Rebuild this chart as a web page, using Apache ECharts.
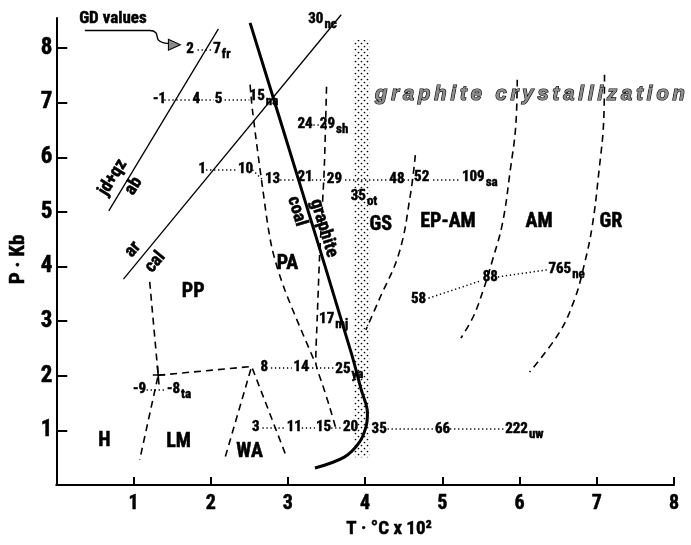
<!DOCTYPE html>
<html>
<head>
<meta charset="utf-8">
<script src="https://cdn.jsdelivr.net/npm/echarts@6.0.0/dist/echarts.min.js"></script>
<style>html,body{margin:0;background:#fff}#chart{width:691px;height:545px}</style>
</head>
<body>
<div id="chart"></div>
<script>
var FONT = '"Roboto Condensed", "Liberation Sans Narrow", "DejaVu Sans Condensed", "Arial Narrow", Roboto, sans-serif';
var BOLD = 'bold condensed';

// solid reaction curves  [T x100 °C, P kb]
var graphiteCoal = [[2.51,8.46],[3.17,5.44],[3.82,2.42],[3.95,1.74],[4.03,1.32],[4.01,1.06],[3.92,0.77],[3.73,0.51],[3.35,0.31]];
var jdQzAb = [[0.68,5.02],[2.10,8.35]];
var arCal = [[0.87,3.77],[3.69,8.61]];

// dashed facies boundaries
var bndPA = [[2.51,7.33],[2.54,6.87],[2.67,5.46],[2.79,4.36],[2.96,3.57],[3.35,2.25]];
var bndSh = [[3.50,7.29],[3.47,5.77],[3.41,4.18],[3.38,3.08],[3.36,2.25],[3.45,1.83],[3.54,1.43],[3.62,1.04]];
var bndWA = [[2.19,0.52],[2.53,2.17],[2.98,0.52]];
var bndTa = [[1.32,2.01],[2.53,2.17]];
var bndPP = [[1.21,3.72],[1.32,2.01],[1.08,0.46]];
var bndGS = [[4.65,6.04],[4.59,5.35],[4.44,4.25],[4.18,3.39],[4.01,2.84]];
var bndAM = [[5.97,7.42],[5.95,6.56],[5.88,5.77],[5.78,4.80],[5.65,4.12],[5.53,3.57],[5.40,3.08],[5.24,2.69]];
var bndGR = [[7.10,7.51],[7.09,6.68],[7.03,5.77],[6.94,4.73],[6.83,3.99],[6.71,3.39],[6.51,2.78],[6.13,2.07]];

// small solid cross at the triple point near "ta"
var taCross = [[[1.25,2.01],[1.41,2.01]], [[1.31,2.18],[1.33,1.84]]];

// graphite crystallization band [x0, y0, x1, y1]
var band = [3.85, 0.51, 4.06, 8.15];

// GD values: [x(left edge), y, number, subscript]
var gdLabels = [
  [1.69,7.97,'2',''],[2.04,7.97,'7','fr'],
  [1.26,7.05,'-1',''],[1.77,7.05,'4',''],[2.06,7.05,'5',''],[2.51,7.11,'15','na'],
  [3.13,6.59,'24',''],[3.42,6.59,'29','sh'],
  [1.85,5.77,'1',''],[2.36,5.77,'10',''],[2.71,5.59,'13',''],[3.13,5.62,'21',''],[3.51,5.59,'29',''],
  [4.32,5.59,'48',''],[4.64,5.62,'52',''],[5.26,5.62,'109','sa'],
  [3.82,5.27,'35','ot'],
  [3.41,3.02,'17','mj'],
  [2.65,2.14,'8',''],[3.08,2.14,'14',''],[3.62,2.11,'25','ya'],
  [1.00,1.74,'-9',''],[1.44,1.74,'-8','ta'],
  [2.54,1.04,'3',''],[2.99,1.04,'11',''],[3.37,1.04,'15',''],[3.72,1.04,'20',''],
  [4.09,1.01,'35',''],[4.91,1.01,'66',''],[5.82,1.01,'222','uw'],
  [4.60,3.39,'58',''],[5.53,3.79,'88',''],[6.38,3.94,'765','ne'],
  [3.27,8.52,'30','nc']
];

// dotted links between GD values
var gdLinks = [
  [[1.83,7.97],[2.03,7.97]],
  [[1.40,7.05],[1.74,7.05]],[[1.88,7.05],[2.04,7.05]],[[2.18,7.05],[2.50,7.05]],
  [[3.33,6.59],[3.41,6.59]],
  [[1.94,5.77],[2.33,5.77]],[[2.54,5.77],[2.67,5.59]],[[2.90,5.59],[3.10,5.59]],[[3.31,5.59],[3.49,5.59]],
  [[3.74,5.59],[4.29,5.59]],[[4.50,5.59],[4.62,5.59]],[[4.88,5.59],[5.23,5.59]],
  [[2.78,2.14],[3.05,2.14]],[[3.26,2.14],[3.59,2.14]],
  [[1.17,1.74],[1.41,1.74]],
  [[2.67,1.04],[2.96,1.04]],[[3.18,1.04],[3.35,1.04]],[[3.56,1.04],[3.69,1.04]],
  [[4.29,1.03],[4.88,1.03]],[[5.10,1.03],[5.79,1.03]],
  [[4.82,3.42],[5.50,3.74]],[[5.72,3.81],[6.36,3.94]]
];

// facies names [x, y, text]
var regionLabels = [
  [0.63,0.79,'H'],[1.59,0.77,'LM'],[2.51,0.60,'WA'],[1.78,3.52,'PP'],[3.00,4.03,'PA'],
  [4.21,4.76,'GS'],[5.08,4.80,'EP-AM'],[6.26,4.80,'AM'],[7.19,4.80,'GR']
];

// labels along reaction lines [x, y, text, angle]
var lineLabels = [
  [0.74,5.62,'jd+qz',58],[1.01,5.46,'ab',58],
  [1.00,4.30,'ar',50],[1.29,4.07,'cal',50],
  [3.47,4.69,'graphite',-73],[3.12,5.00,'coal',-73]
];

var gdArrow = [[0.37,8.32],[1.21,8.32],[1.29,8.28],[1.32,8.15],[1.38,8.10],[1.46,8.08]];
var gdArrowHead = [1.53,8.06];

var dashedLines = [
  {data: bndPA, smooth: 0.3}, {data: bndSh, smooth: 0.2}, {data: bndWA, smooth: false},
  {data: bndTa, smooth: false}, {data: bndPP, smooth: false}, {data: bndGS, smooth: 0.4},
  {data: bndAM, smooth: 0.4}, {data: bndGR, smooth: 0.4}
];

// stipple pattern for the band
var dots = document.createElement('canvas');
dots.width = 6; dots.height = 6;
var dc = dots.getContext('2d');
dc.fillStyle = '#000';
dc.beginPath(); dc.arc(1.5, 1.5, 0.85, 0, Math.PI * 2); dc.fill();
dc.beginPath(); dc.arc(4.5, 4.5, 0.85, 0, Math.PI * 2); dc.fill();

var chart = echarts.init(document.getElementById('chart'));

var ink = {color: '#000', textBorderColor: '#000', textBorderWidth: 0.5, opacity: 1};
var hidden = {color: 'transparent', opacity: 1};
var series = [];

series.push({
  type: 'custom',
  data: [band],
  encode: {x: [0, 2], y: [1, 3]},
  silent: true,
  renderItem: function (params, api) {
    var p0 = api.coord([api.value(0), api.value(3)]);
    var p1 = api.coord([api.value(2), api.value(1)]);
    return {
      type: 'rect',
      shape: {x: p0[0], y: p0[1], width: p1[0] - p0[0], height: p1[1] - p0[1]},
      style: {fill: {image: dots, repeat: 'repeat'}}
    };
  }
});

dashedLines.forEach(function (d) {
  series.push({
    type: 'line', data: d.data, smooth: d.smooth, showSymbol: false, symbol: 'none', clip: false,
    lineStyle: {color: '#000', width: 1.6, type: [7, 5]}
  });
});

series.push({
  type: 'lines', coordinateSystem: 'cartesian2d', silent: true,
  data: gdLinks.map(function (s) { return {coords: s}; }),
  lineStyle: {color: '#000', width: 1.5, type: [1.3, 2.7], opacity: 1}
});

series.push({
  type: 'lines', coordinateSystem: 'cartesian2d', silent: true,
  data: taCross.map(function (s) { return {coords: s}; }),
  lineStyle: {color: '#000', width: 1.6, opacity: 1}
});

[jdQzAb, arCal].forEach(function (d) {
  series.push({
    type: 'line', data: d, showSymbol: false, symbol: 'none', clip: false,
    lineStyle: {color: '#000', width: 1.3}
  });
});

series.push({
  type: 'line', data: graphiteCoal, smooth: 0.35, showSymbol: false, symbol: 'none', clip: false,
  lineStyle: {color: '#000', width: 3}
});

series.push({
  type: 'line', data: gdArrow, smooth: 0.3, showSymbol: false, symbol: 'none', clip: false,
  lineStyle: {color: '#000', width: 1.4}
});
series.push({
  type: 'scatter', data: [gdArrowHead], symbol: 'triangle', symbolSize: [11, 12], symbolRotate: -90,
  itemStyle: {color: '#8a8a8a', borderColor: '#000', borderWidth: 1, opacity: 1}
});

series.push({
  type: 'scatter', symbolSize: 1, itemStyle: hidden, clip: false,
  data: gdLabels.map(function (d) { return {value: [d[0], d[1]], name: d[2], sub: d[3]}; }),
  label: {
    show: true, position: [0, 0], align: 'left', verticalAlign: 'middle', opacity: 1,
    formatter: function (p) {
      return '{n|' + p.data.name + '}' + (p.data.sub ? '{s|' + p.data.sub + '}' : '');
    },
    rich: {
      n: Object.assign({fontFamily: FONT, fontWeight: BOLD, fontSize: 15}, ink),
      s: Object.assign({fontFamily: FONT, fontWeight: BOLD, fontSize: 13, padding: [11, 0, 0, 1]}, ink)
    }
  }
});

series.push({
  type: 'scatter', symbolSize: 1, itemStyle: hidden, clip: false,
  data: regionLabels.map(function (d) { return {value: [d[0], d[1]], name: d[2]}; }),
  label: Object.assign({
    show: true, position: [0, 0], align: 'center', verticalAlign: 'middle',
    formatter: '{b}', fontFamily: FONT, fontWeight: BOLD, fontSize: 20
  }, ink)
});

series.push({
  type: 'scatter', symbolSize: 1, itemStyle: hidden, clip: false,
  data: lineLabels.map(function (d) { return {value: [d[0], d[1]], name: d[2], label: {rotate: d[3]}}; }),
  label: Object.assign({
    show: true, position: [0, 0], align: 'center', verticalAlign: 'middle',
    formatter: '{b}', fontFamily: FONT, fontWeight: BOLD, fontSize: 18
  }, ink)
});

series.push({
  type: 'scatter', symbolSize: 1, itemStyle: hidden, clip: false,
  data: [{value: [6.14, 7.14], name: 'graphite crystallization'.split('').join('\u2009')},
         {value: [0.74, 8.53], name: 'GD values', label: Object.assign({fontStyle: 'normal', fontWeight: BOLD, fontSize: 17, fontFamily: FONT}, ink)}],
  label: {
    show: true, position: [0, 0], align: 'center', verticalAlign: 'middle', formatter: '{b}', opacity: 1,
    fontFamily: '"Liberation Sans", Arial, sans-serif', fontStyle: 'italic', fontWeight: 'bold', fontSize: 20,
    color: '#8c8c8c', textBorderColor: '#000', textBorderWidth: 1.2
  }
});

var integerTicks = [1, 2, 3, 4, 5, 6, 7, 8];

var option = {
  animation: false,
  backgroundColor: '#fff',
  grid: {left: 48, right: 17, top: 18, bottom: 60},
  xAxis: {
    type: 'value', min: 0, max: 8, interval: 1,
    axisLine: {lineStyle: {color: '#000', width: 2}},
    axisTick: {inside: true, length: 8, customValues: integerTicks, lineStyle: {color: '#000', width: 2}},
    axisLabel: Object.assign({customValues: integerTicks, margin: 9, fontFamily: FONT, fontWeight: BOLD, fontSize: 20}, ink),
    splitLine: {show: false},
    name: 'T · °C x 10²', nameLocation: 'middle', nameGap: 33,
    nameTextStyle: Object.assign({fontFamily: FONT, fontWeight: BOLD, fontSize: 19, padding: [0, 0, 0, 48], verticalAlign: 'top'}, ink)
  },
  yAxis: {
    type: 'value', min: 0, max: 8.55, interval: 1,
    axisLine: {lineStyle: {color: '#000', width: 2}},
    axisTick: {inside: true, length: 11, customValues: integerTicks, lineStyle: {color: '#000', width: 2}},
    axisLabel: Object.assign({customValues: integerTicks, margin: 4, fontFamily: FONT, fontWeight: BOLD, fontSize: 23}, ink),
    splitLine: {show: false},
    name: 'P · Kb', nameLocation: 'middle', nameGap: 22, nameRotate: 90,
    nameTextStyle: Object.assign({fontFamily: FONT, fontWeight: BOLD, fontSize: 21, padding: [0, 16, 0, 0]}, ink)
  },
  series: series
};

chart.setOption(option);
</script>
</body>
</html>
